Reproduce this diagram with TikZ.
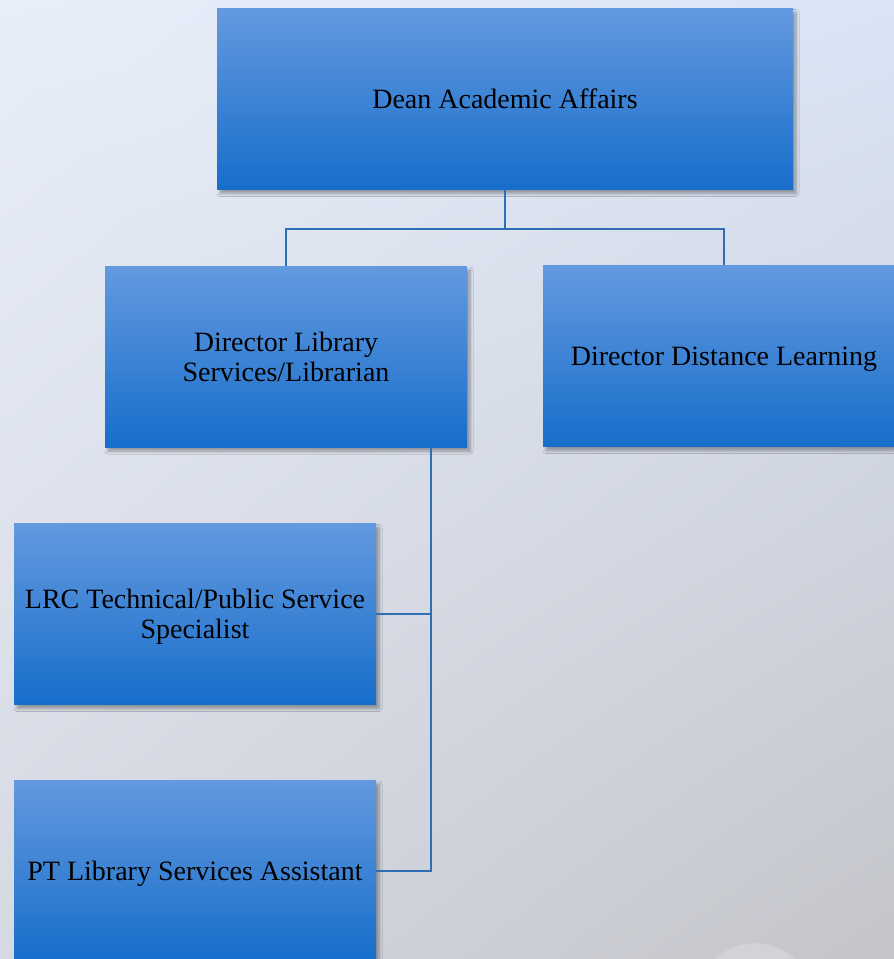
\documentclass[tikz,border=0pt]{standalone}
\usepackage{fontspec}
\setmainfont{Liberation Serif}
\usepackage{tikz}
\usetikzlibrary{shadings,shadows.blur}

\definecolor{boxtop}{HTML}{6399DF}
\definecolor{boxbot}{HTML}{176ECB}
\definecolor{linkblue}{HTML}{2F6EB5}
\definecolor{bgul}{HTML}{E8EEF9}
\definecolor{bgur}{HTML}{DAE4F5}
\definecolor{bgll}{HTML}{D5D9E2}
\definecolor{bglr}{HTML}{C4C5CA}

\begin{document}
\begin{tikzpicture}[x=1pt,y=-1pt,
		post/.style={rectangle,minimum width=362pt,minimum height=181pt,inner sep=0pt,
			top color=boxtop,bottom color=boxbot,align=center,text depth=0pt,
			font=\fontsize{28}{30}\selectfont,
			blur shadow={shadow xshift=3pt,shadow yshift=-4pt,shadow blur radius=3pt,shadow blur steps=8,shadow opacity=35}},
		link/.style={draw=linkblue,line width=2pt}]
		\useasboundingbox(0,0)rectangle(894,959);
		\clip(0,0)rectangle(894,959);
		\shade[upper left=bgul,upper right=bgur,lower left=bgll,lower right=bglr](0,0)rectangle(894,959);
		\draw[gray!40,fill=white,fill opacity=.2](755,1001)circle(58);
		\node[post,minimum width=576pt](dean)at(505,99){Dean Academic Affairs};
		\node[post](libdir)at(286,356.5){Director Library\\Services/Librarian};
		\node[post](distdir)at(724,356){Director Distance Learning};
		\node[post](lrc)at(195,614){LRC Technical/Public Service\\Specialist};
		\node[post](pt)at(195,870.5){PT Library Services Assistant};
		\coordinate(trunk)at(431,446);
		\draw[link](dean.south)--++(0,39)-|(libdir.north);
		\draw[link](dean.south)--++(0,39)-|(distdir.north);
		\draw[link](trunk)|-(lrc.east);
		\draw[link](trunk)|-(pt.east);
	\end{tikzpicture}
\end{document}
